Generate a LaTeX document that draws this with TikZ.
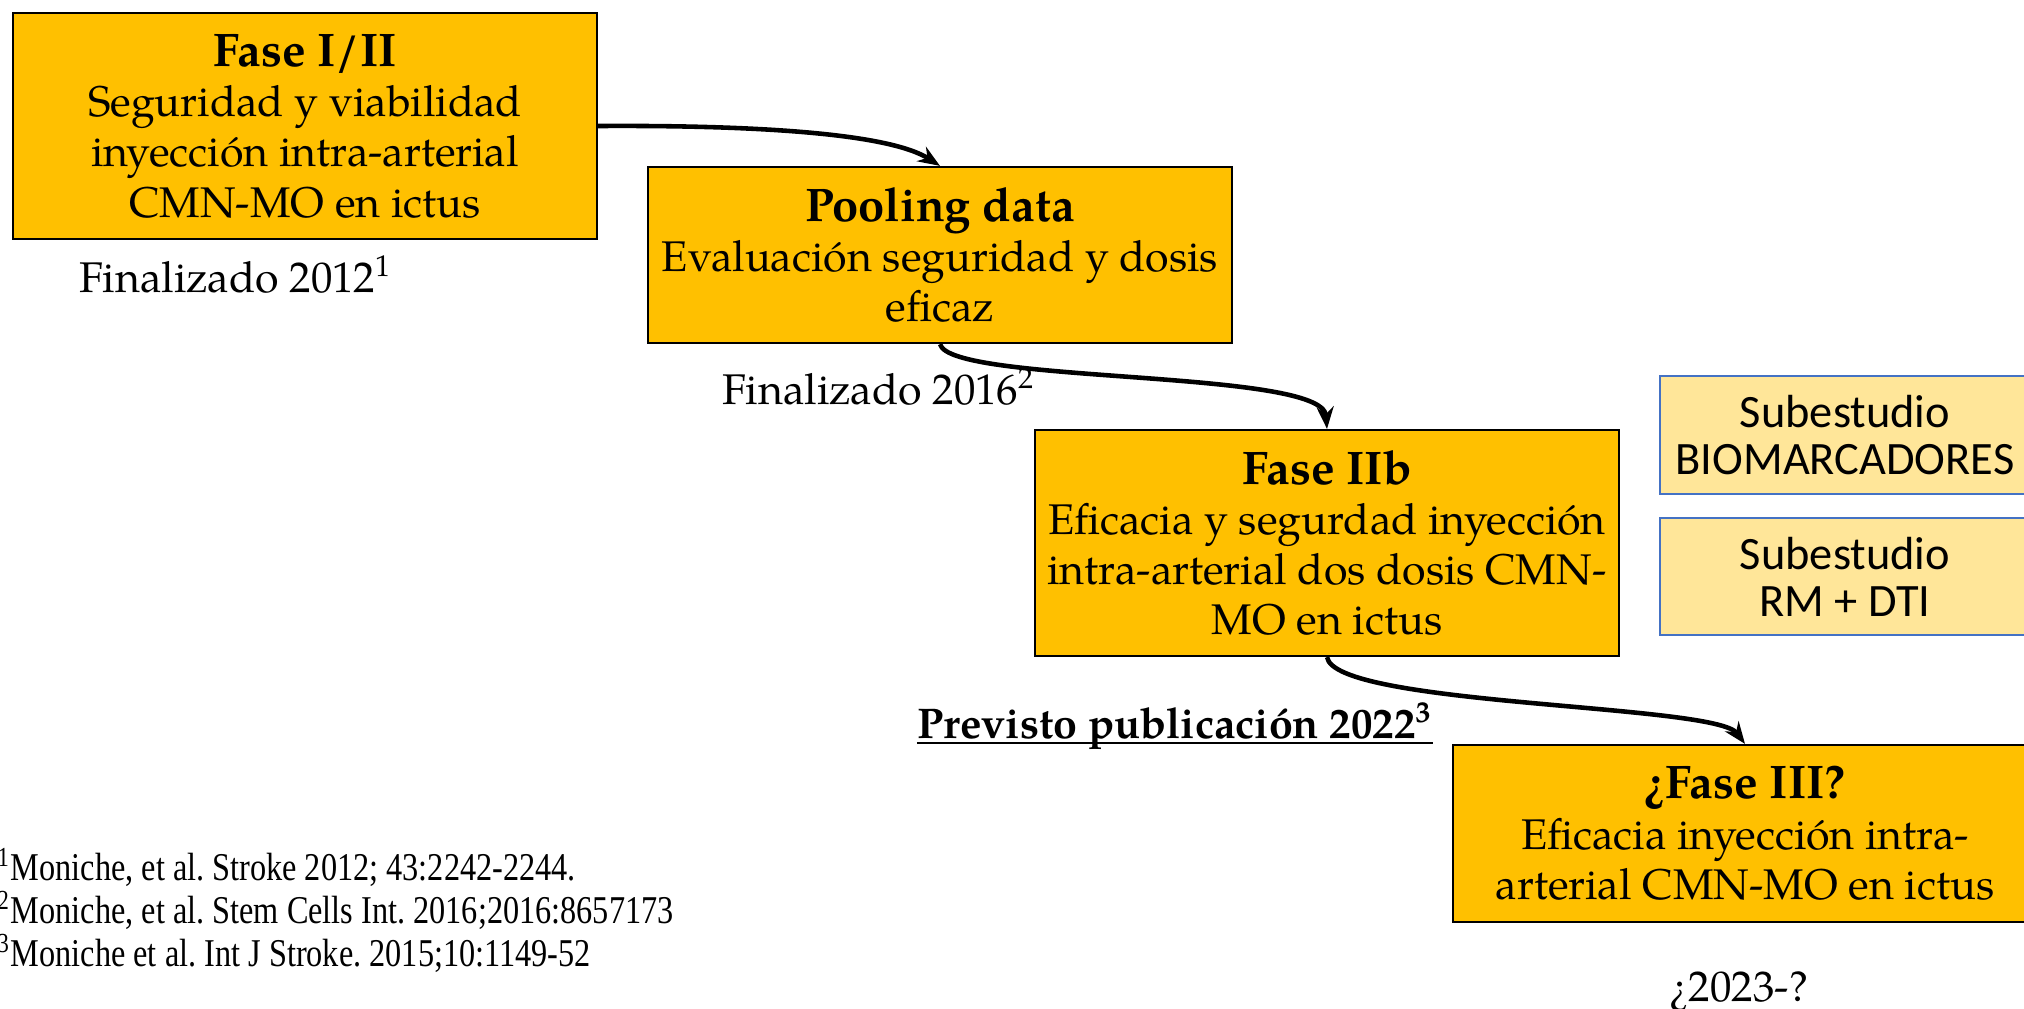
\documentclass[tikz,border=0pt]{standalone}
\usepackage{fontspec}
\setmainfont{TeX Gyre Pagella}
\newfontfamily\calib{Carlito}
\newfontfamily\timesf[FakeStretch=0.82]{Liberation Serif}
\usepackage{xcolor}
\usetikzlibrary{calc,arrows.meta}
\definecolor{oro}{HTML}{FFC000}
\definecolor{crema}{HTML}{FFE699}
\definecolor{azul}{HTML}{4472C4}
\newcommand{\tit}[1]{{\fontsize{13.4}{14.3}\selectfont\bfseries #1}}
\frenchspacing

\begin{document}
\begin{tikzpicture}[x=0.01cm,y=-0.01cm,
  fase/.style={draw=black,line width=0.6pt,fill=oro,minimum width=5.84cm,align=center,inner sep=0pt,font=\fontsize{12.2}{14.3}\selectfont},
  sub/.style={draw=azul,line width=0.4pt,fill=crema,minimum width=3.7cm,minimum height=1.18cm,align=center,inner sep=0pt,font=\calib\fontsize{13.2}{13.4}\selectfont},
  flecha/.style={-{Stealth[length=0.22cm,width=0.17cm]},line width=1.3pt},
  nota/.style={inner sep=0pt,font=\fontsize{12.2}{14.3}\selectfont},
  refs/.style={inner sep=0pt,font=\timesf\fontsize{11.2}{11.7}\selectfont}]
\useasboundingbox (0,0) rectangle (2024,1008);

  \node[fase,minimum height=2.26cm] (f1) at (305,126) {\tit{Fase I/II}\\Seguridad y viabilidad\\inyección intra-arterial\\CMN-MO en ictus};
  \node[fase,minimum height=1.76cm] (pool) at (940,255) {\tit{Pooling data}\\Evaluación seguridad y dosis\\eficaz};
  \node[fase,minimum height=2.26cm] (f2b) at (1327,543) {\tit{Fase IIb}\\Eficacia y segurdad inyección\\intra-arterial dos dosis CMN-\\MO en ictus};
  \node[fase,minimum height=1.77cm] (f3) at (1745,833.5) {\tit{¿Fase III?}\\Eficacia inyección intra-\\arterial CMN-MO en ictus};

  \node[sub] (bio) at (1845,435) {Subestudio\\BIOMARCADORES};
  \node[sub,minimum height=1.17cm] (rm) at (1845,576.5) {Subestudio\\RM + DTI};

  \draw[flecha] (f1.east) .. controls ($(f1.east)+(163,-1)$) and ($(pool.north)+(-50,-32)$) .. (pool.north);
  \draw[flecha] (pool.south) .. controls ($(pool.south)+(10,40)$) and ($(f2b.north)+(-5,-60)$) .. (f2b.north);
  \draw[flecha] (f2b.south) .. controls ($(f2b.south)+(8,49)$) and ($(f3.north)+(-30,-40)$) .. (f3.north);

  \node[nota,anchor=base] (fin1) at (236,292) {Finalizado 2012\textsuperscript{1}};
  \node[nota,anchor=base] (fin2) at (879,404) {Finalizado 2016\textsuperscript{2}};
  \node[nota,anchor=base,font=\fontsize{12.2}{14.3}\selectfont\bfseries] (prev) at (1175,738) {Previsto publicación 2022\textsuperscript{3}};
  \draw[line width=0.7pt] ($(prev.base west)+(0,5)$) -- ($(prev.base east)+(0,5)$);
  \node[nota,anchor=base] (fecha) at (1739,1001) {¿2023-?};

  \foreach \n/\yy/\txt in {1/880/{Moniche, et al. Stroke 2012; 43:2242-2244.},2/923/{Moniche, et al. Stem Cells Int. 2016;2016:8657173},3/966/{Moniche et al. Int J Stroke. 2015;10:1149-52}}
    \node[refs,anchor=base west] (ref\n) at (-3,\yy) {\textsuperscript{\n}\txt};
\end{tikzpicture}
\end{document}
